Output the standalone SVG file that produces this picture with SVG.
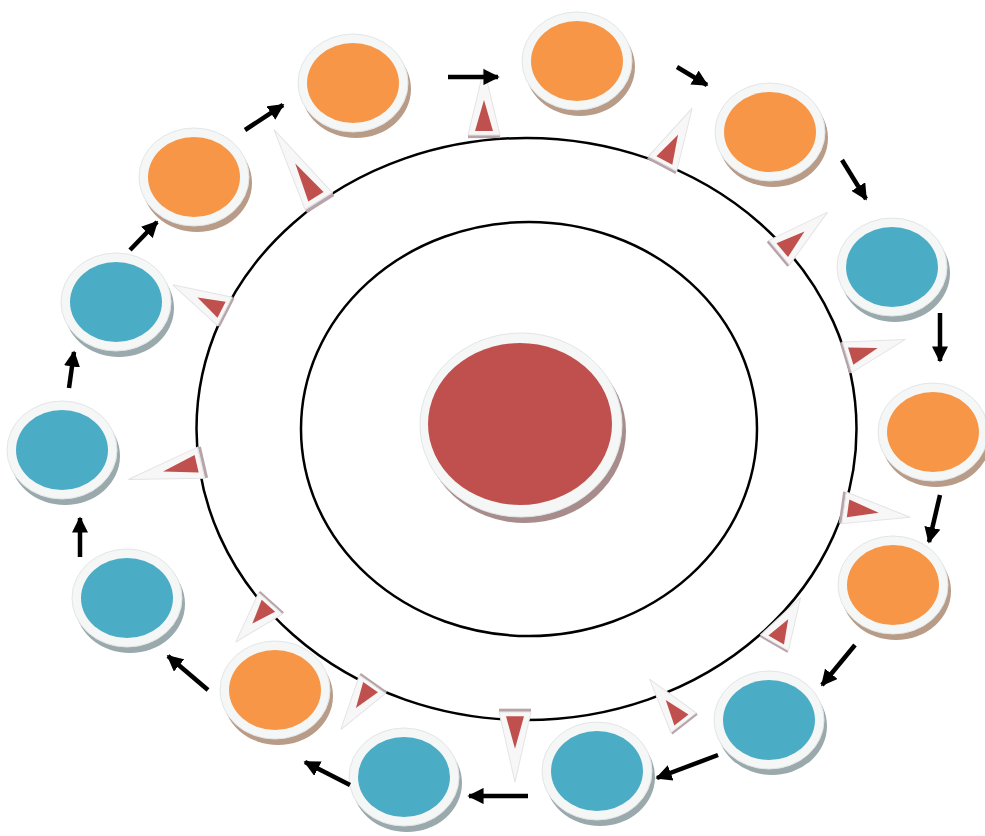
<svg xmlns="http://www.w3.org/2000/svg" xmlns:xlink="http://www.w3.org/1999/xlink" width="985" height="836" viewBox="0 0 985 836">
<style>
.ring{fill:#f5f6f6;stroke:#e2e6e8;stroke-width:1}
.shO{fill:#b89c88}
.shB{fill:#9aa9ac}
.shR{fill:#a88c8c}
.cO{fill:#f79646}
.cB{fill:#4bacc6}
.cR{fill:#c0504d}
.orbit{fill:none;stroke:#000;stroke-width:2.5}
.arr{stroke:#000;stroke-width:4.5;fill:none;marker-end:url(#ah)}
.pw{fill:#f7f7f7;stroke:#e4e4e4;stroke-width:1}
.ps{fill:#b8a4a8}
.pr{fill:#c0504d}
</style>
<defs>
<marker id="ah" viewBox="0 0 10 10" refX="9" refY="5" markerWidth="3.6" markerHeight="3.6" orient="auto" markerUnits="strokeWidth">
<path d="M0,0 L10,5 L0,10 Z" fill="#000"/>
</marker>
<g id="nodeO">
<ellipse class="shO" cx="3" cy="6" rx="55" ry="49"/>
<ellipse class="ring" cx="0" cy="0" rx="55" ry="49"/>
<ellipse class="cO" cx="0" cy="0" rx="46" ry="40"/>
</g>
<g id="nodeB">
<ellipse class="shB" cx="3" cy="6" rx="55" ry="49"/>
<ellipse class="ring" cx="0" cy="0" rx="55" ry="49"/>
<ellipse class="cB" cx="0" cy="0" rx="46" ry="40"/>
</g>
<g id="ptr">
<polygon class="ps" points="-16,4 16,4 16,1 -16,1"/>
<polygon class="pw" points="-16,1 0,-64 16,1"/>
<polygon class="pr" points="-9,-3 0,-33 9,-3"/>
</g>
</defs>
<rect width="985" height="836" fill="#fff"/>
<g id="orbits">
<ellipse class="orbit" cx="526.5" cy="429" rx="330" ry="291"/>
<ellipse class="orbit" cx="529" cy="429" rx="228" ry="207"/>
</g>
<g id="center">
<ellipse class="shR" cx="525" cy="431" rx="101" ry="92"/>
<ellipse class="ring" cx="521" cy="425" rx="101" ry="92"/>
<ellipse class="cR" cx="520" cy="424" rx="92" ry="81"/>
</g>
<g id="pointers">
<use xlink:href="#ptr" href="#ptr" transform="translate(484,134) rotate(0) scale(1,1.03)"/>
<use xlink:href="#ptr" href="#ptr" transform="translate(663,163) rotate(28) scale(1,0.97)"/>
<use xlink:href="#ptr" href="#ptr" transform="translate(780,252) rotate(50) scale(1,0.97)"/>
<use xlink:href="#ptr" href="#ptr" transform="translate(848,357) rotate(73) scale(1,0.94)"/>
<use xlink:href="#ptr" href="#ptr" transform="translate(845,508) rotate(98) scale(1,1.03)"/>
<use xlink:href="#ptr" href="#ptr" transform="translate(775,642) rotate(30) scale(1,0.8)"/>
<use xlink:href="#ptr" href="#ptr" transform="translate(683,722) rotate(-38) scale(1,0.85)"/>
<use xlink:href="#ptr" href="#ptr" transform="translate(515,713) rotate(180) scale(1,1.08)"/>
<use xlink:href="#ptr" href="#ptr" transform="translate(372,685) rotate(215) scale(1,0.85)"/>
<use xlink:href="#ptr" href="#ptr" transform="translate(270,604) rotate(222) scale(1,0.8)"/>
<use xlink:href="#ptr" href="#ptr" transform="translate(200,463) rotate(257) scale(1,1.15)"/>
<use xlink:href="#ptr" href="#ptr" transform="translate(224,311) rotate(297) scale(1,0.9)"/>
<use xlink:href="#ptr" href="#ptr" transform="translate(318,200) rotate(328) scale(1,1.3)"/>
</g>
<g id="n1" transform="translate(353,83)"><use xlink:href="#nodeO" href="#nodeO"/></g>
<g id="n2" transform="translate(577,61)"><use xlink:href="#nodeO" href="#nodeO"/></g>
<g id="n3" transform="translate(770,132)"><use xlink:href="#nodeO" href="#nodeO"/></g>
<g id="n4" transform="translate(892,267)"><use xlink:href="#nodeB" href="#nodeB"/></g>
<g id="n5" transform="translate(933,432)"><use xlink:href="#nodeO" href="#nodeO"/></g>
<g id="n6" transform="translate(893,585)"><use xlink:href="#nodeO" href="#nodeO"/></g>
<g id="n7" transform="translate(769,720)"><use xlink:href="#nodeB" href="#nodeB"/></g>
<g id="n8" transform="translate(597,771)"><use xlink:href="#nodeB" href="#nodeB"/></g>
<g id="n9" transform="translate(404,777)"><use xlink:href="#nodeB" href="#nodeB"/></g>
<g id="n10" transform="translate(275,690)"><use xlink:href="#nodeO" href="#nodeO"/></g>
<g id="n11" transform="translate(127,598)"><use xlink:href="#nodeB" href="#nodeB"/></g>
<g id="n12" transform="translate(62,450)"><use xlink:href="#nodeB" href="#nodeB"/></g>
<g id="n13" transform="translate(116,302)"><use xlink:href="#nodeB" href="#nodeB"/></g>
<g id="n14" transform="translate(194,177)"><use xlink:href="#nodeO" href="#nodeO"/></g>
<g id="connectors">
<line class="arr" x1="448" y1="77" x2="498" y2="77"/>
<line class="arr" x1="677" y1="67" x2="707" y2="85"/>
<line class="arr" x1="842" y1="160" x2="866" y2="199"/>
<line class="arr" x1="940" y1="313" x2="940" y2="361"/>
<line class="arr" x1="940" y1="495" x2="929" y2="542"/>
<line class="arr" x1="855" y1="645" x2="822" y2="685"/>
<line class="arr" x1="718" y1="755" x2="657" y2="778"/>
<line class="arr" x1="528" y1="796" x2="469" y2="796"/>
<line class="arr" x1="350" y1="785" x2="305" y2="762"/>
<line class="arr" x1="208" y1="690" x2="168" y2="656"/>
<line class="arr" x1="80" y1="557" x2="80" y2="518"/>
<line class="arr" x1="69" y1="388" x2="74" y2="352"/>
<line class="arr" x1="130" y1="250" x2="157" y2="222"/>
<line class="arr" x1="245" y1="130" x2="283" y2="105"/>
</g>
</svg>
